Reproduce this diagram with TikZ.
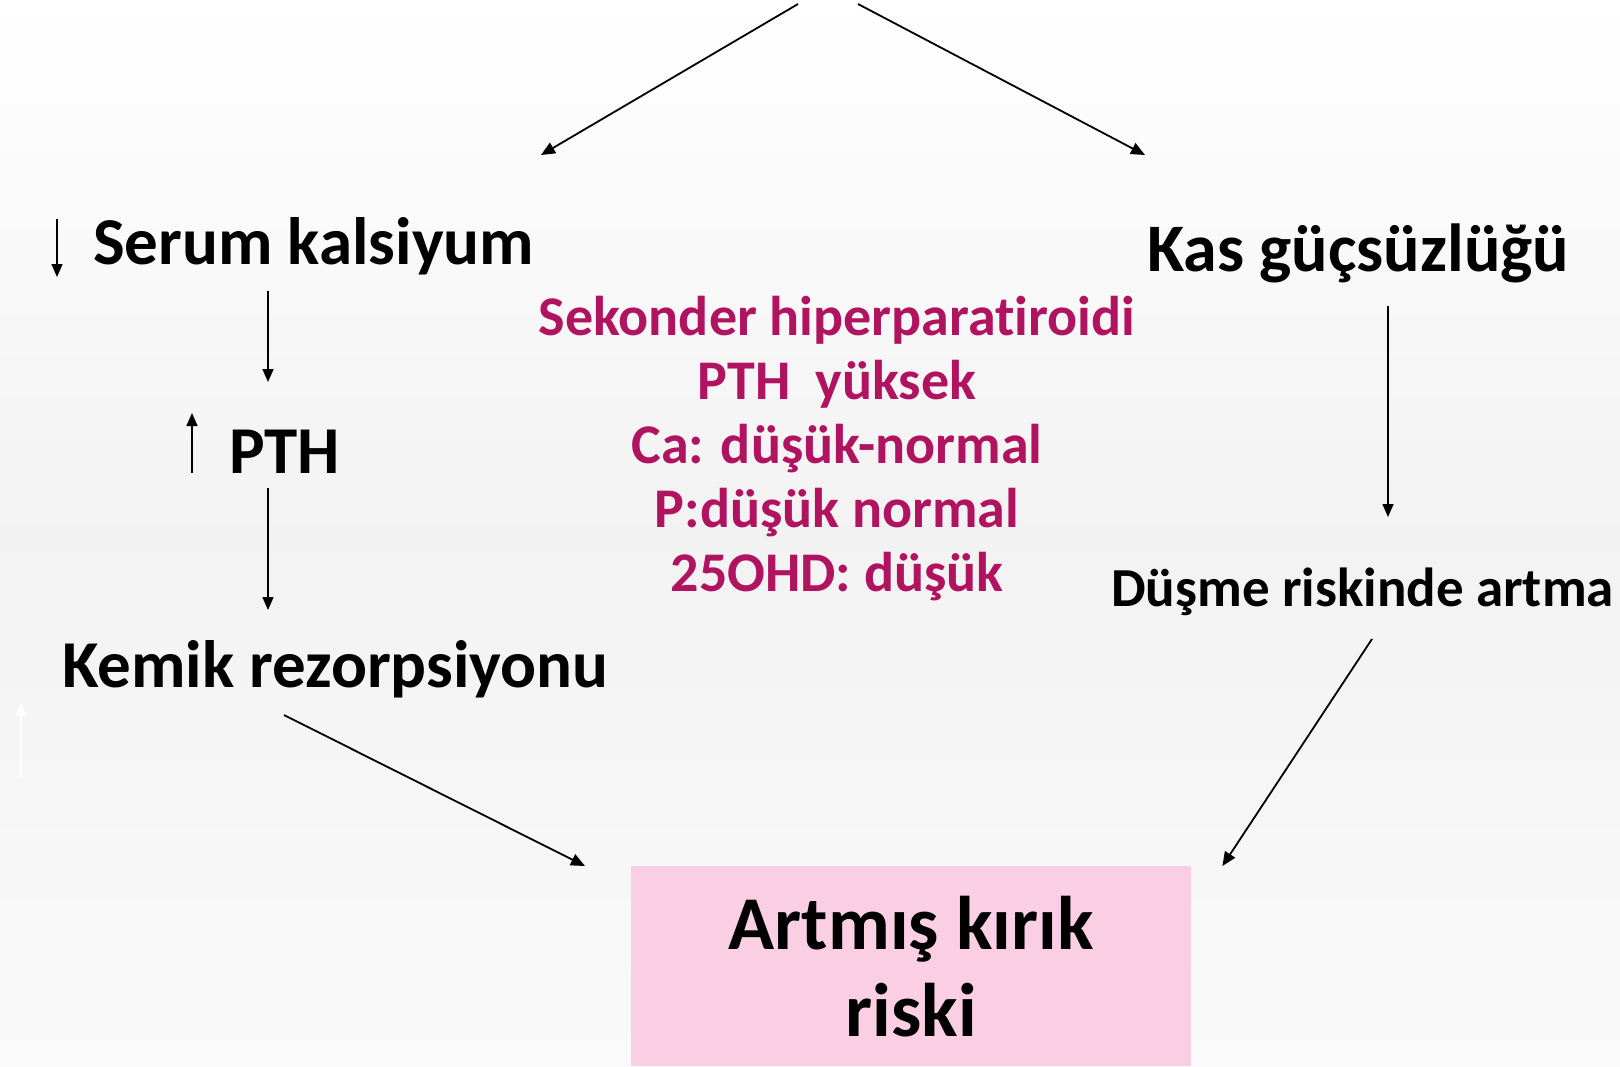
\documentclass[tikz,border=0pt]{standalone}
\usepackage{fontspec}
\setmainfont{Carlito}[Ligatures=NoCommon]
\usetikzlibrary{arrows.meta,calc}
\definecolor{mag}{RGB}{176,20,96}
\definecolor{pinkbox}{RGB}{250,207,228}
\begin{document}
\begin{tikzpicture}[x=1pt,y=-1pt,
  lbl/.style={inner sep=0pt, anchor=base west, font=\bfseries\fontsize{67}{80}\selectfont},
  arr/.style={-{Triangle[length=14pt,width=12pt]}, line width=1.8pt},
  varr/.style={-{Triangle[length=13pt,width=11pt]}, line width=1.5pt},
]
\useasboundingbox (0,0) rectangle (1620,1066);
\shade[top color=white, bottom color=gray!4, middle color=gray!10] (0,0) rectangle (1620,1066);

% nodes
\node[lbl] (serum) at (93,264) {Serum kalsiyum};
\node[lbl] (pth) at (229,473) {PTH};
\node[lbl] (kemik) at (62,687) {Kemik rezorpsiyonu};
\node[lbl, font=\bfseries\fontsize{68}{80}\selectfont] (kas) at (1147,271) {Kas güçsüzlüğü};
\node[lbl, font=\bfseries\fontsize{55}{66}\selectfont] (dusme) at (1111,606) {Düşme riskinde artma};
\node[inner sep=0pt, anchor=north, align=center, text=mag,
      font=\bfseries\fontsize{56}{64}\selectfont] (info) at (837,296)
      {Sekonder hiperparatiroidi\\PTH\ \ yüksek\\Ca: düşük-normal\\P:düşük normal\\25OHD: düşük};
\node[fill=pinkbox, minimum width=560pt, minimum height=200pt, anchor=north west,
      inner sep=0pt, align=center, font=\bfseries\fontsize{76}{87}\selectfont] (box) at (631,866)
      {Artmış kırık\\riski};

% free ends
\coordinate (top1) at (798,4);
\coordinate (top2) at (858,4);
\coordinate (lend) at (541,155);
\coordinate (rend) at (1145,155);

% connectors
\draw[arr] (top1) -- (lend);
\draw[arr] (top2) -- (rend);
\draw[varr] ($(serum.base west)+(175,27)$) -- ($(pth.base west)+(39,-91)$);
\draw[varr] ($(pth.base west)+(39,15)$) -- ($(kemik.base west)+(206,-77)$);
\draw[arr] ($(kemik.base west)+(222,28)$) -- ([xshift=-46pt]box.north west);
\draw[varr] ($(kas.base west)+(241,35)$) -- ($(dusme.base west)+(277,-89)$);
\draw[arr] ($(dusme.base west)+(261,33)$) -- ([xshift=31pt]box.north east);

% small indicator arrows
\draw[varr] ($(serum.base west)+(-36,-45)$) -- ($(serum.base west)+(-36,13)$);
\draw[varr] ($(pth.base west)+(-37,0)$) -- ($(pth.base west)+(-37,-60)$);
\draw[varr, white] ($(kemik.base west)+(-41,90)$) -- ($(kemik.base west)+(-41,16)$);
\end{tikzpicture}
\end{document}
